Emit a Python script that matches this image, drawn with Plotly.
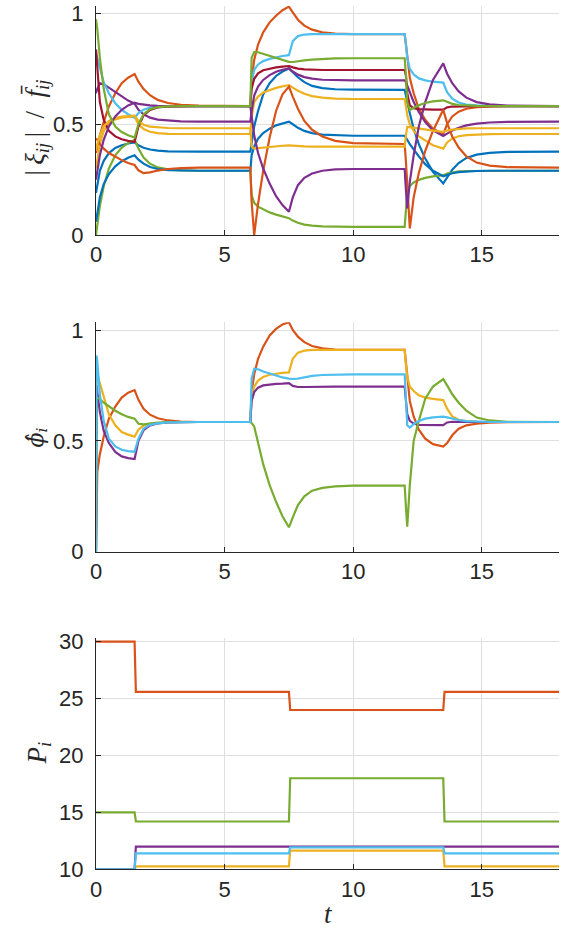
import plotly.graph_objects as go

# ---------------- colours (MATLAB default order) ----------------
C_BLUE = "#0072BD"
C_ORANGE = "#D95319"
C_YELLOW = "#EDB120"
C_PURPLE = "#7E2F8E"
C_GREEN = "#77AC30"
C_LBLUE = "#4DBEEE"
C_DRED = "#A2142F"

# ---------------- subplot 1 : |xi_ij| / fbar_ij ----------------
T_XI = [0, 0.05, 0.15, 0.3, 0.5, 0.75, 1.0, 1.25, 1.5, 1.65, 1.85, 2.1, 2.4, 2.8, 3.3, 4.0, 6.0,
        6.05, 6.15, 6.3, 6.5, 6.75, 7.0, 7.25, 7.5, 7.65, 7.85, 8.1, 8.4, 8.8, 9.3, 10.0, 12.0,
        12.05, 12.1, 12.2, 12.35, 12.55, 12.8, 13.1, 13.5, 13.65, 13.85, 14.1, 14.4, 14.8, 15.3, 16.0, 18.0]

XI_BLUE_A = ([0.19, 0.23, 0.29, 0.335, 0.37, 0.393, 0.405, 0.413, 0.418, 0.405, 0.394, 0.386, 0.381, 0.378, 0.377, 0.376, 0.376]
             + [0.42, 0.49, 0.56, 0.635, 0.685, 0.718, 0.738, 0.752, 0.735, 0.712, 0.69, 0.673, 0.663, 0.658, 0.656, 0.655]
             + [0.63, 0.60, 0.55, 0.48, 0.41, 0.345, 0.285, 0.233, 0.262, 0.295, 0.325, 0.348, 0.363, 0.371, 0.375, 0.376])
XI_ORANGE_A = ([0.37, 0.40, 0.45, 0.51, 0.58, 0.64, 0.685, 0.71, 0.727, 0.692, 0.659, 0.631, 0.610, 0.596, 0.588, 0.584, 0.582]
               + [0.70, 0.79, 0.86, 0.915, 0.96, 0.99, 1.015, 1.031, 1.005, 0.972, 0.945, 0.927, 0.915, 0.909, 0.907, 0.907]
               + [0.86, 0.80, 0.71, 0.64, 0.57, 0.52, 0.48, 0.455, 0.50, 0.535, 0.557, 0.57, 0.577, 0.58, 0.582, 0.582])
XI_YELLOW_A = ([0.30, 0.34, 0.41, 0.47, 0.505, 0.522, 0.53, 0.533, 0.534, 0.50, 0.478, 0.466, 0.46, 0.457, 0.456, 0.456, 0.456]
               + [0.53, 0.60, 0.625, 0.643, 0.655, 0.664, 0.671, 0.677, 0.665, 0.651, 0.638, 0.627, 0.62, 0.616, 0.614, 0.614]
               + [0.58, 0.54, 0.50, 0.47, 0.445, 0.425, 0.405, 0.39, 0.418, 0.436, 0.446, 0.451, 0.454, 0.455, 0.456, 0.456])
XI_PURPLE_A = ([0.64, 0.66, 0.685, 0.68, 0.665, 0.645, 0.625, 0.607, 0.593, 0.565, 0.545, 0.53, 0.521, 0.516, 0.513, 0.512, 0.512]
               + [0.56, 0.63, 0.67, 0.70, 0.722, 0.737, 0.746, 0.752, 0.738, 0.724, 0.713, 0.706, 0.701, 0.699, 0.698, 0.698]
               + [0.69, 0.675, 0.645, 0.60, 0.555, 0.51, 0.472, 0.447, 0.458, 0.472, 0.484, 0.495, 0.503, 0.508, 0.511, 0.512])
XI_GREEN_B = ([0.0, 0.05, 0.13, 0.22, 0.30, 0.36, 0.395, 0.415, 0.43, 0.39, 0.35, 0.322, 0.305, 0.296, 0.292, 0.29, 0.29]
              + [0.18, 0.145, 0.128, 0.115, 0.102, 0.092, 0.083, 0.076, 0.065, 0.055, 0.047, 0.042, 0.039, 0.038, 0.037, 0.037]
              + [0.10, 0.19, 0.222, 0.237, 0.249, 0.258, 0.265, 0.27, 0.277, 0.283, 0.287, 0.289, 0.29, 0.29, 0.29, 0.29])
XI_LBLUE = ([0.82, 0.80, 0.75, 0.69, 0.64, 0.595, 0.565, 0.545, 0.53, 0.55, 0.566, 0.575, 0.579, 0.581, 0.582, 0.582, 0.582]
            + [0.69, 0.745, 0.77, 0.785, 0.795, 0.802, 0.808, 0.812, 0.875, 0.898, 0.905, 0.907, 0.907, 0.907, 0.907, 0.907]
            + [0.86, 0.80, 0.75, 0.725, 0.707, 0.698, 0.692, 0.688, 0.645, 0.615, 0.598, 0.589, 0.585, 0.583, 0.582, 0.582])
XI_DRED = ([0.838, 0.74, 0.60, 0.52, 0.47, 0.445, 0.432, 0.425, 0.42, 0.49, 0.54, 0.565, 0.576, 0.58, 0.582, 0.582, 0.582]
           + [0.66, 0.705, 0.73, 0.744, 0.752, 0.757, 0.76, 0.763, 0.757, 0.751, 0.748, 0.746, 0.745, 0.745, 0.745, 0.745]
           + [0.72, 0.64, 0.585, 0.572, 0.568, 0.566, 0.566, 0.566, 0.576, 0.58, 0.581, 0.582, 0.582, 0.582, 0.582, 0.582])
XI_BLUE_B = ([0.06, 0.10, 0.17, 0.23, 0.275, 0.31, 0.333, 0.349, 0.36, 0.34, 0.322, 0.307, 0.298, 0.293, 0.291, 0.29, 0.29]
             + [0.36, 0.40, 0.435, 0.46, 0.48, 0.495, 0.505, 0.512, 0.5, 0.484, 0.47, 0.46, 0.453, 0.45, 0.448, 0.448]
             + [0.44, 0.43, 0.41, 0.385, 0.355, 0.32, 0.29, 0.265, 0.272, 0.279, 0.284, 0.287, 0.289, 0.29, 0.29, 0.29])
XI_ORANGE_B = ([0.436, 0.43, 0.41, 0.39, 0.37, 0.353, 0.338, 0.325, 0.316, 0.292, 0.279, 0.283, 0.291, 0.298, 0.302, 0.304, 0.304]
               + [0.15, 0.0, 0.14, 0.29, 0.44, 0.56, 0.635, 0.67, 0.625, 0.57, 0.515, 0.475, 0.445, 0.425, 0.415, 0.411]
               + [0.33, 0.22, 0.03, 0.17, 0.28, 0.38, 0.47, 0.565, 0.505, 0.445, 0.395, 0.355, 0.327, 0.313, 0.306, 0.304])
XI_YELLOW_B = ([0.38, 0.41, 0.45, 0.49, 0.515, 0.528, 0.535, 0.538, 0.539, 0.515, 0.498, 0.489, 0.485, 0.483, 0.482, 0.482, 0.482]
               + [0.40, 0.39, 0.392, 0.395, 0.398, 0.401, 0.403, 0.405, 0.403, 0.401, 0.4, 0.399, 0.399, 0.399, 0.399, 0.399]
               + [0.45, 0.488, 0.487, 0.484, 0.48, 0.476, 0.471, 0.466, 0.472, 0.476, 0.479, 0.481, 0.482, 0.482, 0.482, 0.482])
XI_PURPLE_B = ([0.25, 0.29, 0.36, 0.43, 0.49, 0.535, 0.565, 0.585, 0.597, 0.592, 0.588, 0.585, 0.583, 0.582, 0.582, 0.582, 0.582]
               + [0.53, 0.45, 0.37, 0.30, 0.232, 0.175, 0.135, 0.105, 0.17, 0.225, 0.258, 0.278, 0.29, 0.296, 0.298, 0.298]
               + [0.20, 0.12, 0.24, 0.36, 0.49, 0.60, 0.70, 0.775, 0.728, 0.685, 0.648, 0.62, 0.60, 0.59, 0.584, 0.582])
XI_GREEN_A = ([0.974, 0.93, 0.80, 0.66, 0.545, 0.49, 0.465, 0.45, 0.44, 0.50, 0.545, 0.568, 0.577, 0.581, 0.582, 0.582, 0.582]
              + [0.80, 0.826, 0.825, 0.818, 0.808, 0.797, 0.788, 0.782, 0.781, 0.783, 0.788, 0.792, 0.795, 0.797, 0.798, 0.798]
              + [0.72, 0.60, 0.565, 0.575, 0.586, 0.596, 0.603, 0.608, 0.6, 0.592, 0.587, 0.584, 0.583, 0.582, 0.582, 0.582])

XI_SERIES = [
    (XI_BLUE_A, C_BLUE), (XI_ORANGE_A, C_ORANGE), (XI_YELLOW_A, C_YELLOW), (XI_PURPLE_A, C_PURPLE),
    (XI_GREEN_B, C_GREEN), (XI_LBLUE, C_LBLUE), (XI_DRED, C_DRED), (XI_BLUE_B, C_BLUE),
    (XI_ORANGE_B, C_ORANGE), (XI_YELLOW_B, C_YELLOW), (XI_PURPLE_B, C_PURPLE), (XI_GREEN_A, C_GREEN),
]

# ---------------- subplot 2 : phi_hat_i ----------------
T_PHI = [0, 0.02, 0.05, 0.15, 0.3, 0.5, 0.75, 1.0, 1.25, 1.5, 1.65, 1.85, 2.1, 2.4, 2.8, 3.3, 4.0, 6.0,
         6.05, 6.15, 6.3, 6.5, 6.75, 7.0, 7.25, 7.5, 7.65, 7.85, 8.1, 8.4, 8.8, 9.3, 10.0, 12.0,
         12.05, 12.1, 12.2, 12.35, 12.55, 12.8, 13.1, 13.5, 13.65, 13.85, 14.1, 14.4, 14.8, 15.3, 16.0, 18.0]

PHI_ORANGE = ([0, 0.28, 0.36, 0.44, 0.52, 0.60, 0.655, 0.695, 0.717, 0.729, 0.685, 0.645, 0.618, 0.602, 0.592, 0.587, 0.585, 0.585]
              + [0.72, 0.80, 0.87, 0.925, 0.975, 1.005, 1.025, 1.035, 1.0, 0.97, 0.945, 0.928, 0.917, 0.912, 0.91, 0.91]
              + [0.85, 0.78, 0.68, 0.61, 0.55, 0.51, 0.485, 0.474, 0.49, 0.525, 0.555, 0.57, 0.578, 0.582, 0.584, 0.585])
PHI_YELLOW = ([0, 0.80, 0.80, 0.76, 0.69, 0.62, 0.57, 0.54, 0.528, 0.519, 0.55, 0.57, 0.578, 0.582, 0.584, 0.585, 0.585, 0.585]
              + [0.70, 0.745, 0.772, 0.788, 0.798, 0.803, 0.807, 0.809, 0.87, 0.898, 0.907, 0.91, 0.91, 0.91, 0.91, 0.91]
              + [0.84, 0.79, 0.745, 0.725, 0.705, 0.695, 0.689, 0.684, 0.645, 0.61, 0.595, 0.589, 0.586, 0.585, 0.585, 0.585])
PHI_PURPLE = ([0, 0.75, 0.72, 0.63, 0.545, 0.49, 0.45, 0.43, 0.422, 0.418, 0.50, 0.548, 0.57, 0.579, 0.583, 0.585, 0.585, 0.585]
              + [0.68, 0.72, 0.74, 0.75, 0.755, 0.757, 0.758, 0.76, 0.748, 0.743, 0.743, 0.744, 0.745, 0.745, 0.745, 0.745]
              + [0.68, 0.62, 0.59, 0.578, 0.572, 0.571, 0.571, 0.571, 0.583, 0.586, 0.586, 0.585, 0.585, 0.585, 0.585, 0.585])
PHI_GREEN = ([0, 0.69, 0.695, 0.688, 0.672, 0.655, 0.636, 0.62, 0.608, 0.6, 0.577, 0.574, 0.578, 0.582, 0.584, 0.585, 0.585, 0.585]
             + [0.58, 0.565, 0.49, 0.395, 0.30, 0.225, 0.16, 0.11, 0.155, 0.21, 0.25, 0.275, 0.288, 0.295, 0.298, 0.298]
             + [0.2, 0.113, 0.30, 0.50, 0.59, 0.69, 0.745, 0.779, 0.75, 0.71, 0.672, 0.636, 0.605, 0.592, 0.586, 0.585])
PHI_LBLUE = ([0, 0.885, 0.86, 0.71, 0.59, 0.51, 0.475, 0.46, 0.454, 0.451, 0.51, 0.555, 0.572, 0.579, 0.583, 0.585, 0.585, 0.585]
             + [0.78, 0.825, 0.823, 0.813, 0.803, 0.793, 0.786, 0.781, 0.779, 0.781, 0.787, 0.793, 0.797, 0.799, 0.8, 0.8]
             + [0.70, 0.57, 0.56, 0.575, 0.59, 0.6, 0.606, 0.609, 0.606, 0.6, 0.594, 0.589, 0.586, 0.585, 0.585, 0.585])

PHI_SERIES = [(PHI_ORANGE, C_ORANGE), (PHI_YELLOW, C_YELLOW), (PHI_PURPLE, C_PURPLE),
              (PHI_GREEN, C_GREEN), (PHI_LBLUE, C_LBLUE)]

# ---------------- subplot 3 : P_i ----------------
T_P = [0, 1.5, 1.55, 7.5, 7.55, 13.5, 13.55, 18]
P_ORANGE = [30, 30, 25.6, 25.6, 24.0, 24.0, 25.6, 25.6]
P_YELLOW = [10, 10, 10.25, 10.25, 11.65, 11.65, 10.25, 10.25]
P_PURPLE = [10, 10, 12.0, 12.0, 12.0, 12.0, 12.0, 12.0]
P_GREEN = [15, 15, 14.2, 14.2, 18.0, 18.0, 14.2, 14.2]
P_LBLUE = [10, 10, 11.4, 11.4, 11.93, 11.93, 11.4, 11.4]

P_SERIES = [(P_ORANGE, C_ORANGE), (P_YELLOW, C_YELLOW), (P_PURPLE, C_PURPLE),
            (P_GREEN, C_GREEN), (P_LBLUE, C_LBLUE)]

# ---------------- figure ----------------
W, H = 565, 930
ML, MR = 95.5, 5.8
LW = 2.2

fig = go.Figure()
for ys, c in XI_SERIES:
    fig.add_trace(go.Scatter(x=T_XI, y=ys, mode="lines", line=dict(color=c, width=LW),
                             xaxis="x", yaxis="y", showlegend=False, hoverinfo="skip"))
for ys, c in PHI_SERIES:
    fig.add_trace(go.Scatter(x=T_PHI, y=ys, mode="lines", line=dict(color=c, width=LW),
                             xaxis="x2", yaxis="y2", showlegend=False, hoverinfo="skip"))
for ys, c in P_SERIES:
    fig.add_trace(go.Scatter(x=T_P, y=ys, mode="lines", line=dict(color=c, width=LW),
                             xaxis="x3", yaxis="y3", showlegend=False, hoverinfo="skip"))


def py(px):
    return (H - px) / H


AX_COL = "#262626"
GRID = "#dfdfdf"
TICKFONT = dict(family="Liberation Sans, Arial, sans-serif", size=22, color=AX_COL)

xcommon = dict(range=[0, 18], tickvals=[0, 5, 10, 15], ticks="inside", ticklen=5, tickcolor=AX_COL,
               showline=True, linecolor=AX_COL, linewidth=1, showgrid=True, gridcolor=GRID,
               gridwidth=1, zeroline=False, tickfont=TICKFONT, fixedrange=True, automargin=False)
ycommon = dict(ticks="inside", ticklen=5, tickcolor=AX_COL, showline=True, linecolor=AX_COL,
               linewidth=1, showgrid=True, gridcolor=GRID, gridwidth=1, zeroline=False,
               tickfont=TICKFONT, fixedrange=True, ticklabelstandoff=7, automargin=False)

fig.update_layout(
    template="none",
    width=W, height=H,
    margin=dict(l=ML, r=MR, t=0, b=0, autoexpand=False),
    paper_bgcolor="white", plot_bgcolor="white",
    xaxis=dict(domain=[0, 1], anchor="y", **xcommon),
    yaxis=dict(domain=[py(235), py(235 - 1.035 * 221.5)], range=[0, 1.035], anchor="x",
               tickvals=[0, 0.5, 1], ticktext=["0", "0.5", "1"], **ycommon),
    xaxis2=dict(domain=[0, 1], anchor="y2", **xcommon),
    yaxis2=dict(domain=[py(551.7), py(551.7 - 1.035 * 221.7)], range=[0, 1.035], anchor="x2",
                tickvals=[0, 0.5, 1], ticktext=["0", "0.5", "1"], **ycommon),
    xaxis3=dict(domain=[0, 1], anchor="y3", **xcommon),
    yaxis3=dict(domain=[py(869.3), py(869.3 - 20.3 * 11.38)], range=[10, 30.3], anchor="x3",
                tickvals=[10, 15, 20, 25, 30], **ycommon),
)

PW = W - ML - MR


def pxr(px):
    return (px - ML) / PW


LABFONT = dict(family="Liberation Serif, Times New Roman, serif", size=27, color=AX_COL)
PHIFONT = dict(family="DejaVu Serif, serif", size=22, color=AX_COL)
fig.add_annotation(text="|\u2009<i>ξ</i><sub><i>ij</i></sub>\u2009|  /  <i>f̄</i><sub><i>ij</i></sub>",
                   xref="paper", yref="paper", x=pxr(36), y=py(128), textangle=-90,
                   showarrow=False, font=LABFONT, xanchor="center", yanchor="middle")
fig.add_annotation(text="<i>ϕ̂</i><sub><i>i</i></sub>",
                   xref="paper", yref="paper", x=pxr(36), y=py(438), textangle=-90,
                   showarrow=False, font=PHIFONT, xanchor="center", yanchor="middle")
fig.add_annotation(text="<i>P</i><sub><i>i</i></sub>",
                   xref="paper", yref="paper", x=pxr(38), y=py(753), textangle=-90,
                   showarrow=False, font=LABFONT, xanchor="center", yanchor="middle")
fig.add_annotation(text="<i>t</i>",
                   xref="paper", yref="paper", x=pxr(328), y=py(914),
                   showarrow=False, font=LABFONT, xanchor="center", yanchor="middle")

fig.write_html("out.html", config={"displayModeBar": False},
               post_script="document.body.style.margin='0';document.body.style.padding='0';")
